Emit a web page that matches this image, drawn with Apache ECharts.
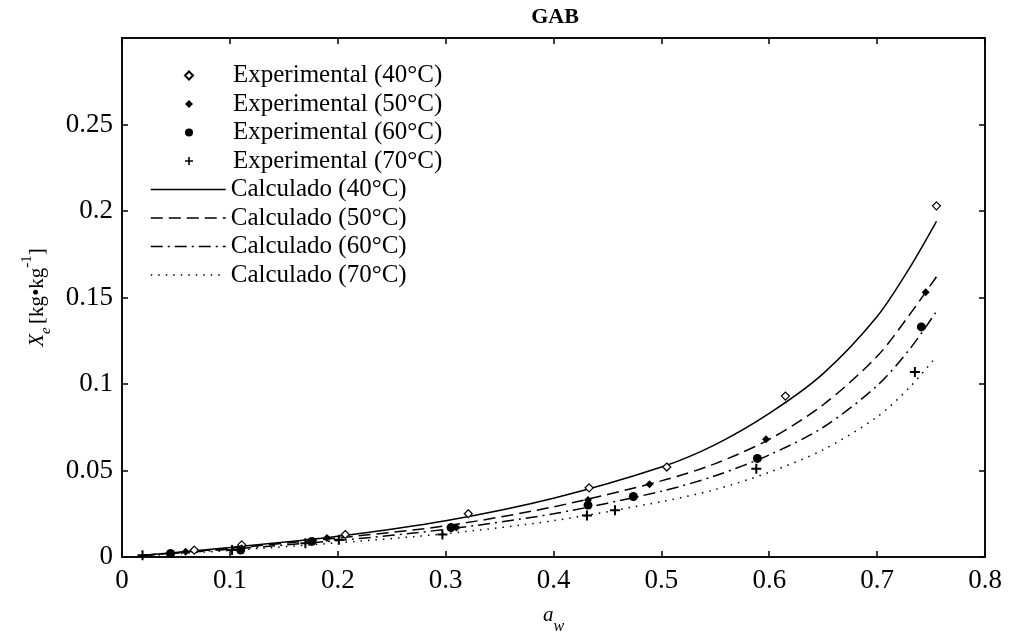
<!DOCTYPE html>
<html>
<head>
<meta charset="utf-8">
<script src="https://cdn.jsdelivr.net/npm/echarts@6/dist/echarts.min.js"></script>
<style>html,body{margin:0;padding:0;background:#fff;}#c{width:1015px;height:640px;}</style>
</head>
<body>
<div id="c"></div>
<script>
// Experimental data [a_w, X_e]
const exp40 = [[0.067,0.004],[0.111,0.007],[0.207,0.013],[0.321,0.025],[0.433,0.040],[0.505,0.052],[0.615,0.093],[0.755,0.203]];
const exp50 = [[0.059,0.003],[0.111,0.005],[0.190,0.011],[0.310,0.017],[0.432,0.033],[0.489,0.042],[0.597,0.068],[0.745,0.153]];
const exp60 = [[0.045,0.002],[0.110,0.004],[0.176,0.009],[0.305,0.017],[0.432,0.030],[0.474,0.035],[0.589,0.057],[0.741,0.133]];
const exp70 = [[0.019,0.001],[0.102,0.004],[0.170,0.008],[0.201,0.010],[0.297,0.013],[0.431,0.024],[0.457,0.027],[0.588,0.051],[0.735,0.107]];
// Calculated curves
const curveX = [0.02,0.1,0.2,0.3,0.4,0.5,0.55,0.6,0.65,0.7,0.73,0.755];
const calc40 = [0.001,0.0055,0.012,0.021,0.034,0.052,0.065,0.083,0.106,0.139,0.167,0.194];
const calc50 = [0.001,0.005,0.011,0.018,0.029,0.044,0.054,0.068,0.088,0.116,0.140,0.162];
const calc60 = [0.0009,0.0045,0.0095,0.016,0.025,0.038,0.047,0.059,0.075,0.099,0.120,0.142];
const calc70 = [0.0007,0.0038,0.0082,0.0135,0.021,0.032,0.039,0.049,0.062,0.081,0.098,0.116];
const xTicks = [0,0.1,0.2,0.3,0.4,0.5,0.6,0.7,0.8];
const yTicks = [0,0.05,0.1,0.15,0.2,0.25,0.3];
const expNames = ['Experimental (40°C)','Experimental (50°C)','Experimental (60°C)','Experimental (70°C)'];
const calcNames = ['Calculado (40°C)','Calculado (50°C)','Calculado (60°C)','Calculado (70°C)'];

const pair = (xs, ys) => xs.map((x, i) => [x, ys[i]]);
const serif = 'Liberation Serif';
const plusPath = 'path://M4,0H6V4H10V6H6V10H4V6H0V4H4Z';

const chart = echarts.init(document.getElementById('c'));
const axisCommon = {
  type: 'value',
  axisLine: {show: true, onZero: false, lineStyle: {color: '#000', width: 1.5}},
  axisTick: {show: true, inside: true, length: 6, lineStyle: {color: '#000', width: 1.5}},
  splitLine: {show: false}
};
const labelStyle = {color: '#000', fontFamily: serif, fontSize: 27};

chart.setOption({
  animation: false,
  backgroundColor: '#fff',
  title: {text: 'GAB', left: 550, textAlign: 'center', top: 1,
    textStyle: {fontFamily: serif, fontWeight: 'bold', fontSize: 22, color: '#000'}},
  grid: {left: 122, right: 30, top: 38, bottom: 74, show: true, borderColor: '#000', borderWidth: 1.5, backgroundColor: 'transparent'},
  legend: [
    {orient: 'vertical', left: 184, top: 63, padding: 0, itemWidth: 8, itemHeight: 8, itemGap: 3.5,
     textStyle: {fontFamily: serif, fontSize: 25, color: '#000', lineHeight: 25, padding: [0, 0, 0, 35]},
     data: expNames},
    {orient: 'vertical', left: 150, top: 63 + 4 * 28.5, padding: 0, itemWidth: 75, itemHeight: 10, itemGap: 3.5,
     lineStyle: {width: 1.5},
     itemStyle: {color: 'rgba(0,0,0,0)', borderWidth: 0, opacity: 0},
     textStyle: {fontFamily: serif, fontSize: 25, color: '#000', lineHeight: 25},
     data: calcNames}
  ],
  xAxis: [
    Object.assign({}, axisCommon, {min: 0, max: 0.8, interval: 0.1, position: 'bottom',
      axisLabel: Object.assign({}, labelStyle, {margin: 10, formatter: v => String(+v.toFixed(1))}),
      name: '{i|a}{s|w}', nameLocation: 'middle', nameGap: 48,
      nameTextStyle: {rich: {
        i: {fontFamily: serif, fontStyle: 'italic', fontSize: 21, color: '#000', lineHeight: 30, verticalAlign: 'top'},
        s: {fontFamily: serif, fontStyle: 'italic', fontSize: 16, color: '#000', lineHeight: 30, verticalAlign: 'bottom'}
      }}}),
    Object.assign({}, axisCommon, {min: 0, max: 0.8, interval: 0.1, position: 'top', axisLabel: {show: false}})
  ],
  yAxis: [
    Object.assign({}, axisCommon, {min: 0, max: 0.3, interval: 0.05, position: 'left',
      axisLabel: Object.assign({}, labelStyle, {margin: 9, showMaxLabel: false, formatter: v => String(+v.toFixed(2))}),
      name: '{i|X}{s|e} {n|[kg•kg}{p|-1}{n|]}', nameLocation: 'middle', nameGap: 68, nameRotate: 90,
      nameTextStyle: {rich: {
        i: {fontFamily: serif, fontStyle: 'italic', fontSize: 21, color: '#000', lineHeight: 34},
        s: {fontFamily: serif, fontStyle: 'italic', fontSize: 15, color: '#000', lineHeight: 34, verticalAlign: 'bottom'},
        n: {fontFamily: serif, fontSize: 21, color: '#000', lineHeight: 34},
        p: {fontFamily: serif, fontSize: 15, color: '#000', lineHeight: 34, verticalAlign: 'top'}
      }}}),
    Object.assign({}, axisCommon, {min: 0, max: 0.3, interval: 0.05, position: 'right', axisLabel: {show: false}})
  ],
  series: [
    {name: expNames[0], type: 'scatter', data: exp40, symbol: 'diamond', symbolSize: 8,
     itemStyle: {color: '#fff', borderColor: '#000', borderWidth: 1.2, opacity: 1}, z: 5},
    {name: expNames[1], type: 'scatter', data: exp50, symbol: 'diamond', symbolSize: 8,
     itemStyle: {color: '#000', opacity: 1}, z: 5},
    {name: expNames[2], type: 'scatter', data: exp60, symbol: 'circle', symbolSize: 9,
     itemStyle: {color: '#000', opacity: 1}, z: 5},
    {name: expNames[3], type: 'scatter', data: exp70, symbol: plusPath, symbolSize: 10,
     itemStyle: {color: '#000', opacity: 1}, z: 5},
    {name: calcNames[0], type: 'line', data: pair(curveX, calc40), symbol: 'none', smooth: 0.3,
     lineStyle: {color: '#000', width: 1.5, type: 'solid'}},
    {name: calcNames[1], type: 'line', data: pair(curveX, calc50), symbol: 'none', smooth: 0.3,
     lineStyle: {color: '#000', width: 1.5, type: [12, 6]}},
    {name: calcNames[2], type: 'line', data: pair(curveX, calc60), symbol: 'none', smooth: 0.3,
     lineStyle: {color: '#000', width: 1.5, type: [12, 5, 2, 5]}},
    {name: calcNames[3], type: 'line', data: pair(curveX, calc70), symbol: 'none', smooth: 0.3,
     lineStyle: {color: '#000', width: 1.5, type: [1.5, 6]}}
  ]
});
</script>
</body>
</html>
